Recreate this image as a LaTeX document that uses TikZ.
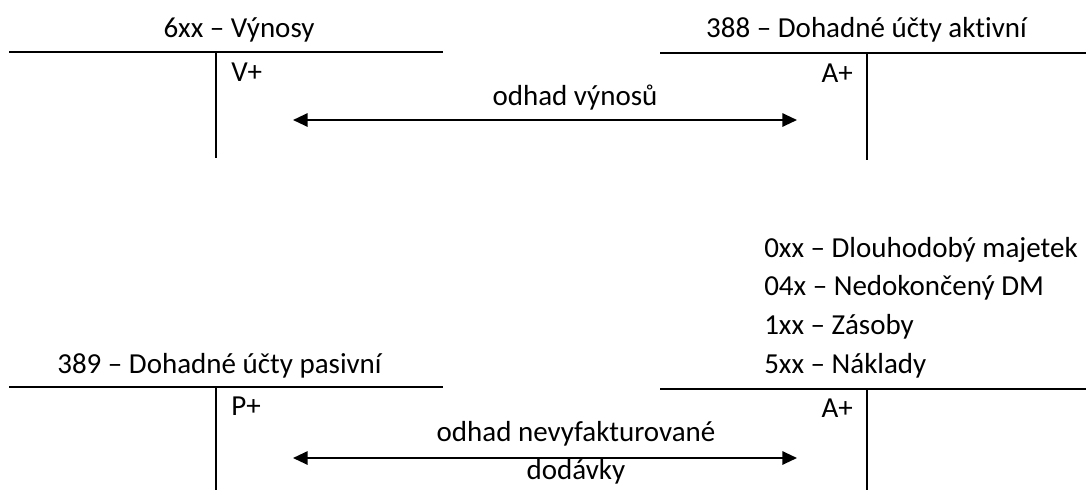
\documentclass[tikz,border=0pt]{standalone}
\usepackage{fontspec}
\setmainfont[Ligatures=NoCommon]{Carlito}
\usetikzlibrary{arrows.meta}
\begin{document}
\begin{tikzpicture}[x=0.75pt,y=-0.75pt,
  acct/.style={line width=1.5pt},
  lbl/.style={inner sep=0pt,font=\fontsize{21.75}{28.9}\selectfont},
  flow/.style={line width=1.5pt,
    {Triangle[length=11pt,width=10pt]}-{Triangle[length=11pt,width=10pt]}}]
\useasboundingbox (0,0) rectangle (1086,490);

% T-account 6xx
\coordinate (vTop) at (9,52);
\coordinate (vEnd) at (443,52);
\coordinate (vMid) at (216,52);
\coordinate (vBot) at (216,158);
\draw[acct] (vTop) -- (vEnd);
\draw[acct] (vMid) -- (vBot);
\node[lbl,anchor=base] (tV) at (239,37) {6xx – Výnosy};
\node[lbl,anchor=base west] (sV) at (231,81) {V+};

% T-account 388
\coordinate (aTop) at (660,53);
\coordinate (aEnd) at (1086,53);
\coordinate (aMid) at (867,53);
\coordinate (aBot) at (867,160);
\draw[acct] (aTop) -- (aEnd);
\draw[acct] (aMid) -- (aBot);
\node[lbl,anchor=base] (tA) at (866.5,37) {388 – Dohadné účty aktivní};
\node[lbl,anchor=base east] (sA) at (853,82) {A+};

% estimate of revenues
\coordinate (fL) at (293,120);
\coordinate (fR) at (797,120);
\draw[flow] (fL) -- (fR);
\node[lbl,anchor=base] (fLab) at (575,105) {odhad výnosů};

% T-account 389
\coordinate (pTop) at (9,387);
\coordinate (pEnd) at (443,387);
\coordinate (pMid) at (216,387);
\coordinate (pBot) at (216,490);
\draw[acct] (pTop) -- (pEnd);
\draw[acct] (pMid) -- (pBot);
\node[lbl,anchor=base] (tP) at (219.5,373) {389 – Dohadné účty pasivní};
\node[lbl,anchor=base west] (sP) at (231,415) {P+};

% debit side accounts
\coordinate (dTop) at (660,389);
\coordinate (dEnd) at (1086,389);
\coordinate (dMid) at (867,389);
\coordinate (dBot) at (867,490);
\draw[acct] (dTop) -- (dEnd);
\draw[acct] (dMid) -- (dBot);
\node[lbl,anchor=base east] (sD) at (853,417) {A+};
\node[lbl,anchor=north west,align=left] (list) at (764,237)
  {0xx – Dlouhodobý majetek\\04x – Nedokončený DM\\1xx – Zásoby\\5xx – Náklady};

% estimate of uninvoiced delivery
\coordinate (gL) at (293,458);
\coordinate (gR) at (797,458);
\draw[flow] (gL) -- (gR);
\node[lbl,anchor=north,align=center] (gLab) at (576,421)
  {odhad nevyfakturované\\dodávky};
\end{tikzpicture}
\end{document}
